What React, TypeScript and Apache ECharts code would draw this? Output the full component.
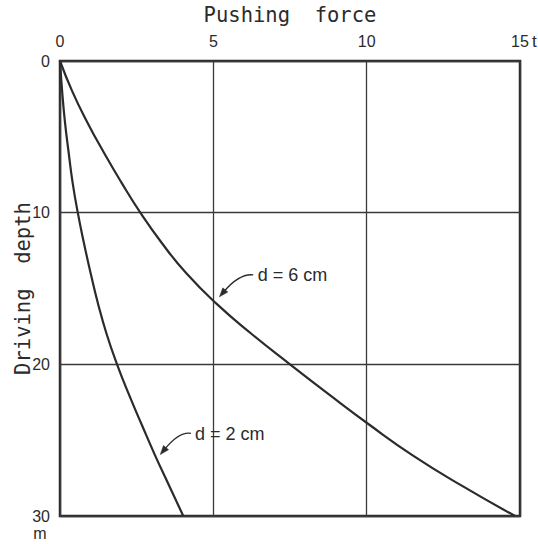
import React, { useEffect, useRef } from "react";
import * as echarts from "echarts";

const depth = [0, 2, 4, 6, 8, 10, 12, 14, 16, 18, 20, 22, 24, 26, 28, 30];
const force6 = [0, 0.4, 0.88, 1.42, 2.0, 2.62, 3.32, 4.12, 5.1, 6.25, 7.5, 8.78, 10.1, 11.5, 13.1, 14.84];
const force2 = [0, 0.07, 0.16, 0.28, 0.41, 0.58, 0.78, 1.0, 1.24, 1.52, 1.86, 2.25, 2.67, 3.1, 3.56, 4.02];
const xTicks = [0, 5, 10, 15];
const yTicks = [0, 10, 20, 30];
const xTitle = "Pushing  force";
const yTitle = "Driving  depth";
const xUnit = "t";
const yUnit = "m";
const annotations = [
  { label: "d = 6 cm", text: [6.45, 14.1], start: [6.3, 14.1], ctrl: [5.85, 14.0], tip: [5.2, 15.55] },
  { label: "d = 2 cm", text: [4.4, 24.6], start: [4.27, 24.55], ctrl: [3.9, 24.4], tip: [3.27, 25.95] },
];

const INK = "#2b2b2b";
const MONO = "'DejaVu Sans Mono', monospace";
const NUM = "'Liberation Sans Narrow', 'Liberation Sans', sans-serif";

export default function App() {
  const ref = useRef<HTMLDivElement>(null);
  useEffect(() => {
    if (!ref.current) return;
    const chart = echarts.init(ref.current, undefined, { renderer: "svg" });
    chart.setOption({
      animation: false,
      backgroundColor: "#ffffff",
      grid: {
        left: 60,
        right: 18,
        top: 61,
        bottom: 28,
        containLabel: false,
        outerBoundsMode: "none",
        show: true,
        borderColor: INK,
        borderWidth: 2.5,
      },
      xAxis: {
        type: "value",
        position: "top",
        min: 0,
        max: 15,
        interval: 5,
        name: xTitle,
        nameLocation: "middle",
        nameGap: 36,
        nameMoveOverlap: false,
        nameTextStyle: { fontFamily: MONO, fontSize: 20.5, color: INK },
        axisLine: { show: false },
        axisTick: { show: false },
        axisLabel: {
          margin: 12,
          fontFamily: NUM,
          fontSize: 16,
          color: INK,
          formatter: (v: number) => (xTicks.includes(v) ? String(v) : ""),
        },
        splitLine: { show: true, lineStyle: { color: "#3a3a3a", width: 1.3 } },
      },
      yAxis: {
        type: "value",
        inverse: true,
        min: 0,
        max: 30,
        interval: 10,
        name: yTitle,
        nameLocation: "middle",
        nameGap: 27,
        nameMoveOverlap: false,
        nameRotate: 90,
        nameTextStyle: { fontFamily: MONO, fontSize: 20.5, color: INK },
        axisLine: { show: false },
        axisTick: { show: false },
        axisLabel: {
          margin: 10,
          fontFamily: NUM,
          fontSize: 16,
          color: INK,
          formatter: (v: number) => (yTicks.includes(v) ? String(v) : ""),
        },
        splitLine: { show: true, lineStyle: { color: "#3a3a3a", width: 1.3 } },
      },
      series: [
        {
          name: "d = 6 cm",
          type: "line",
          smooth: true,
          showSymbol: false,
          lineStyle: { color: INK, width: 2.2 },
          data: depth.map((d, i) => [force6[i], d]),
        },
        {
          name: "d = 2 cm",
          type: "line",
          smooth: true,
          showSymbol: false,
          lineStyle: { color: INK, width: 2.2 },
          data: depth.map((d, i) => [force2[i], d]),
        },
      ],
    });

    const px = (p: number[]) => chart.convertToPixel({ seriesIndex: 0 }, p) as number[];
    const graphics: any[] = [];
    annotations.forEach((a) => {
      const t = px(a.text);
      const s = px(a.start);
      const c = px(a.ctrl);
      const tip = px(a.tip);
      let ux = tip[0] - c[0];
      let uy = tip[1] - c[1];
      const len = Math.hypot(ux, uy);
      ux /= len;
      uy /= len;
      const L = 9;
      const W = 3.3;
      const bx = tip[0] - ux * L;
      const by = tip[1] - uy * L;
      graphics.push({
        type: "bezierCurve",
        shape: { x1: s[0], y1: s[1], cpx1: c[0], cpy1: c[1], x2: bx + ux * 2, y2: by + uy * 2 },
        style: { stroke: INK, lineWidth: 1.3, fill: null },
      });
      graphics.push({
        type: "polygon",
        shape: {
          points: [
            [tip[0], tip[1]],
            [bx - uy * W, by + ux * W],
            [bx + uy * W, by - ux * W],
          ],
        },
        style: { fill: INK, stroke: INK, lineWidth: 0.5 },
      });
      graphics.push({
        type: "text",
        x: t[0],
        y: t[1],
        style: {
          text: a.label,
          fontFamily: "'Liberation Sans', sans-serif",
          fontSize: 18,
          fill: INK,
          textAlign: "left",
          textVerticalAlign: "middle",
        },
      });
    });
    const corner = px([15, 0]);
    graphics.push({
      type: "text",
      x: corner[0] + 12,
      y: corner[1] - 20,
      style: { text: xUnit, fontFamily: NUM, fontSize: 17, fill: INK, textAlign: "left", textVerticalAlign: "middle" },
    });
    const bottom = px([0, 30]);
    graphics.push({
      type: "text",
      x: bottom[0] - 20,
      y: bottom[1] + 17,
      style: { text: yUnit, fontFamily: NUM, fontSize: 16, fill: INK, textAlign: "center", textVerticalAlign: "middle" },
    });
    chart.setOption({ graphic: graphics });

    return () => chart.dispose();
  }, []);
  return <div ref={ref} style={{ position: "absolute", left: 0, top: 0, width: 538, height: 544 }} />;
}
